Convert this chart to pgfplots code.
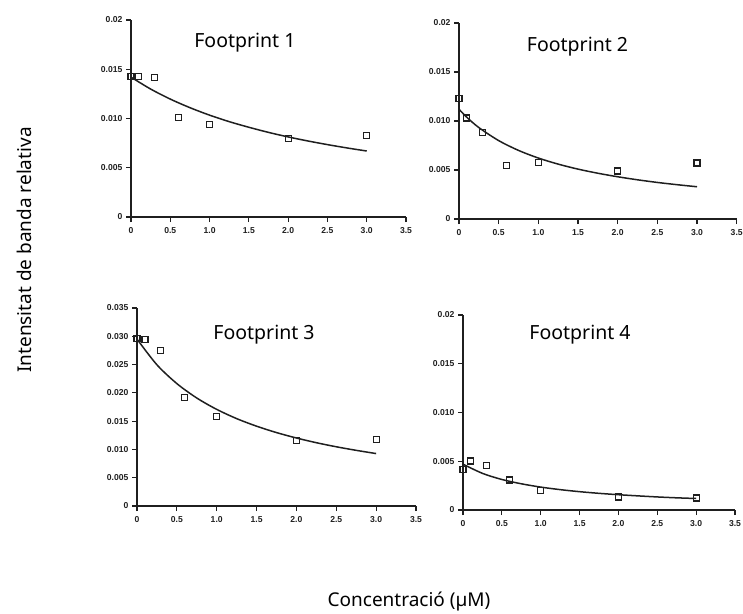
\documentclass[border=0pt]{standalone}
\usepackage{pgfplots}
\pgfplotsset{compat=1.18}
\usepackage{fontspec}
\setmainfont{Noto Sans}
\newfontfamily\tickfont{Liberation Sans}
\definecolor{ink}{gray}{0.12}

\pgfplotsset{
  fp/.style={
    scale only axis,
    axis lines*=left,
    axis line style={ink, line width=1.5pt, -},
    tick style={ink, line width=1.1pt},
    tick align=outside,
    major tick length=5pt,
    xmin=0, xmax=3.5, ymin=0,
    xtick={0,0.5,1,1.5,2,2.5,3,3.5},
    xticklabels={0,0.5,1.0,1.5,2.0,2.5,3.0,3.5},
    ticklabel style={font=\tickfont\bfseries\fontsize{8.6}{9}\selectfont, text=ink},
    xticklabel style={yshift=-2pt},
    scaled y ticks=false,
    clip=false,
    anchor=south west,
  },
  pts/.style={only marks, mark=square, mark size=3pt, mark options={ink, line width=1.1pt, fill=white}},
  fit/.style={no marks, ink, line width=1.5pt, smooth},
}

\begin{document}
\begin{tikzpicture}
\path[use as bounding box] (0,0) rectangle (743pt,-613pt);

% Panel 1
\begin{axis}[fp, at={(131pt,-217pt)}, width=275pt, height=197pt, ymax=0.02,
  ytick={0,0.005,0.01,0.015,0.02}, yticklabels={0,0.005,0.010,0.015,0.02}]
\addplot[fit] coordinates {(0,0.01420) (0.25,0.01299) (0.5,0.01197) (0.75,0.01110) (1.0,0.01034) (1.25,0.00968) (1.5,0.00911) (1.75,0.00859) (2.0,0.00813) (2.25,0.00772) (2.5,0.00735) (2.75,0.00701) (3.0,0.00670)};
\addplot[pts] coordinates {(0,0.01424) (0.1,0.0143) (0.3,0.0142) (0.6,0.0101) (1.0,0.00936) (2.0,0.0080) (3.0,0.00827)};
\node[anchor=base, font=\fontsize{19.5}{22}\selectfont] at (axis cs:1.45,0.01716) {Footprint 1};
\end{axis}

% Panel 2
\begin{axis}[fp, at={(459pt,-219pt)}, width=277.7pt, height=196pt, ymax=0.02,
  ytick={0,0.005,0.01,0.015,0.02}, yticklabels={0,0.005,0.010,0.015,0.02}]
\addplot[fit] coordinates {(0,0.01120) (0.1,0.01037) (0.25,0.00933) (0.5,0.00800) (0.75,0.00700) (1.0,0.00622) (1.25,0.00560) (1.5,0.00509) (1.75,0.00467) (2.0,0.00431) (2.25,0.00400) (2.5,0.00373) (2.75,0.00350) (3.0,0.00329)};
\addplot[pts] coordinates {(0,0.01231) (0.1,0.01031) (0.3,0.00881) (0.6,0.00548) (1.0,0.00575) (2.0,0.00490) (3.0,0.00571)};
\node[anchor=base, font=\fontsize{19.5}{22}\selectfont] at (axis cs:1.494,0.01707) {Footprint 2};
\end{axis}

% Panel 3
\begin{axis}[fp, at={(137pt,-506pt)}, width=279pt, height=198pt, ymax=0.035,
  ytick={0,0.005,0.01,0.015,0.02,0.025,0.03,0.035},
  yticklabels={0,0.005,0.010,0.015,0.020,0.025,0.030,0.035}]
\addplot[fit] coordinates {(0,0.02950) (0.25,0.02496) (0.5,0.02164) (0.75,0.01909) (1.0,0.01708) (1.25,0.01545) (1.5,0.01411) (1.75,0.01298) (2.0,0.01202) (2.25,0.01119) (2.5,0.01047) (2.75,0.00984) (3.0,0.00927)};
\addplot[pts] coordinates {(0,0.02963) (0.1,0.02939) (0.3,0.02745) (0.6,0.01918) (1.0,0.01576) (2.0,0.01151) (3.0,0.01175)};
\node[anchor=base, font=\fontsize{19.5}{22}\selectfont] at (axis cs:1.594,0.02947) {Footprint 3};
\end{axis}

% Panel 4
\begin{axis}[fp, at={(463pt,-510pt)}, width=272pt, height=195pt, ymax=0.02,
  ytick={0,0.005,0.01,0.015,0.02}, yticklabels={0,0.005,0.010,0.015,0.02}]
\addplot[fit] coordinates {(0,0.00470) (0.25,0.00376) (0.5,0.00313) (0.75,0.00269) (1.0,0.00235) (1.25,0.00209) (1.5,0.00188) (1.75,0.00171) (2.0,0.00157) (2.25,0.00145) (2.5,0.00134) (2.75,0.00125) (3.0,0.00118)};
\addplot[pts] coordinates {(0,0.00417) (0.1,0.00503) (0.3,0.00455) (0.6,0.00308) (1.0,0.00198) (2.0,0.00133) (3.0,0.00123)};
\node[anchor=base, font=\fontsize{19.5}{22}\selectfont] at (axis cs:1.506,0.01744) {Footprint 4};
\end{axis}

\node[anchor=base, font=\fontsize{19}{22}\selectfont] at (409pt,-606pt) {Concentració (µM)};
\node[rotate=90, font=\fontsize{19}{22}\selectfont] at (24pt,-250pt) {Intensitat de banda relativa};
\end{tikzpicture}
\end{document}
